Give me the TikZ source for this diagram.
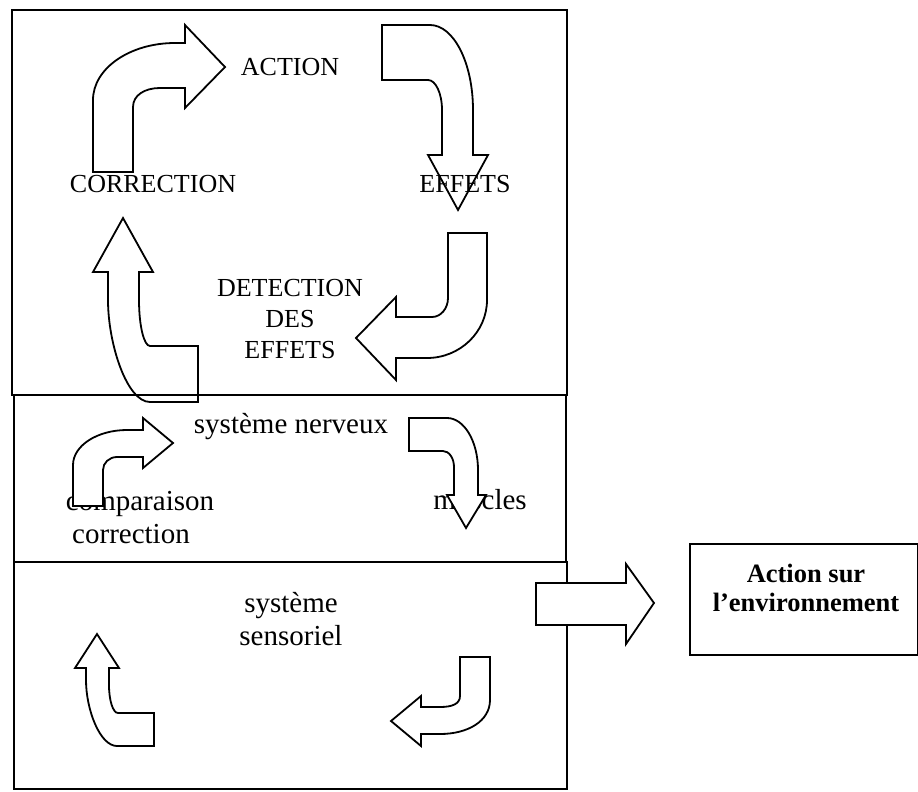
\documentclass[tikz,border=0pt]{standalone}
\usepackage{fontspec}
\setmainfont{Liberation Serif}
\tikzset{
  frame/.style={draw=black, line width=1.9pt},
  blockarrow/.style={draw=black, fill=white, line width=1.8pt, line join=miter},
  lbl/.style={anchor=base, inner sep=0pt, font=\fontsize{29}{33}\selectfont},
  caplbl/.style={anchor=base, inner sep=0pt, font=\fontsize{26}{30}\selectfont},
  boldlbl/.style={anchor=base, inner sep=0pt, font=\fontsize{26.5}{30}\selectfont\bfseries}
}
\begin{document}
\begin{tikzpicture}[x=1pt,y=-1pt]
\useasboundingbox (0,0) rectangle (918,792);
% top box
\draw[frame] (12,10) rectangle (567,395);
% arrow 1: CORRECTION -> ACTION
\draw[blockarrow] (93,172) -- (93,100) .. controls (93,68.5) and (129.7,43) .. (175,43) -- (185,43) -- (185,25) -- (225,67) -- (185,108) -- (185,88) -- (160,88) .. controls (145,88) and (133,95) .. (133,107) -- (133,172) -- cycle;
% arrow 2: ACTION -> EFFETS
\draw[blockarrow] (382,25) -- (430,25) .. controls (453.7,25) and (473,63) .. (473,110) -- (473,155) -- (488,155) -- (458,210) -- (428,155) -- (442,155) -- (442,110) .. controls (442,93.4) and (435.7,80) .. (428,80) -- (382,80) -- cycle;
% arrow 3: EFFETS -> DETECTION
\draw[blockarrow] (448,233) -- (487,233) -- (487,300) .. controls (487,332) and (460,358) .. (427,358) -- (396,358) -- (396,380) -- (356,338) -- (396,297) -- (396,317) -- (432,317) .. controls (440.8,317) and (448,308.5) .. (448,298) -- cycle;
% arrow 4: DETECTION -> CORRECTION
\draw[blockarrow] (123,218) -- (153,272) -- (139,272) -- (139,300) .. controls (139,325.4) and (143.9,346) .. (150,346) -- (198,346) -- (198,402) -- (150,402) .. controls (126.8,402) and (108,343.7) .. (108,300) -- (108,272) -- (93,272) -- cycle;
% top texts
\node[caplbl] (action) at (290,75) {ACTION};
\node[caplbl] (correctionT) at (153,192) {CORRECTION};
\node[caplbl] (effets) at (465,192) {EFFETS};
\node[caplbl] (det1) at (290,296) {DETECTION};
\node[caplbl] (det2) at (290,327) {DES};
\node[caplbl] (det3) at (290,358) {EFFETS};
% middle box
\draw[frame] (14,395) rectangle (566,562);
\node[lbl] (nerveux) at (291,433) {système nerveux};
\node[lbl] (comparaison) at (140,510) {comparaison};
\node[lbl] (correctionM) at (131,543) {correction};
\node[lbl] (muscles) at (480,509) {muscles};
% arrow 5
\draw[blockarrow] (73,506) -- (73,465) .. controls (73,445.7) and (97.2,430) .. (127,430) -- (143,430) -- (143,418) -- (173,443) -- (143,468) -- (143,457) -- (117,457) .. controls (109.3,457) and (103,462.8) .. (103,470) -- (103,506) -- cycle;
% arrow 6
\draw[blockarrow] (409,418) -- (447,418) .. controls (464.1,418) and (478,441.3) .. (478,470) -- (478,495) -- (486,495) -- (466,528) -- (447,495) -- (454,495) -- (454,467) .. controls (454,458.2) and (449.1,451) .. (443,451) -- (409,451) -- cycle;
% bottom box
\draw[frame] (14,562) rectangle (567,789);
\node[lbl] (sys) at (291,612) {système};
\node[lbl] (sens) at (291,645) {sensoriel};
% arrow 7
\draw[blockarrow] (97,634) -- (119,668) -- (109,668) -- (109,685) .. controls (109,700.5) and (113,713) .. (118,713) -- (154,713) -- (154,746) -- (117,746) .. controls (99.9,746) and (86,709.6) .. (86,680) -- (86,668) -- (75,668) -- cycle;
% arrow 8
\draw[blockarrow] (460,657) -- (490,657) -- (490,700) .. controls (490,721) and (468,734) .. (440,734) -- (421,734) -- (421,746) -- (391,721) -- (421,696) -- (421,707) -- (440,707) .. controls (452,707) and (460,704) .. (460,696) -- cycle;
% big arrow to environment
\draw[blockarrow] (536,583) -- (626,583) -- (626,564) -- (654,603) -- (626,644) -- (626,625) -- (536,625) -- cycle;
% environment box
\draw[frame] (690,544) rectangle (918,655);
\node[boldlbl] (env1) at (806,582) {Action sur};
\node[boldlbl] (env2) at (806,611) {l’environnement};
\end{tikzpicture}
\end{document}
